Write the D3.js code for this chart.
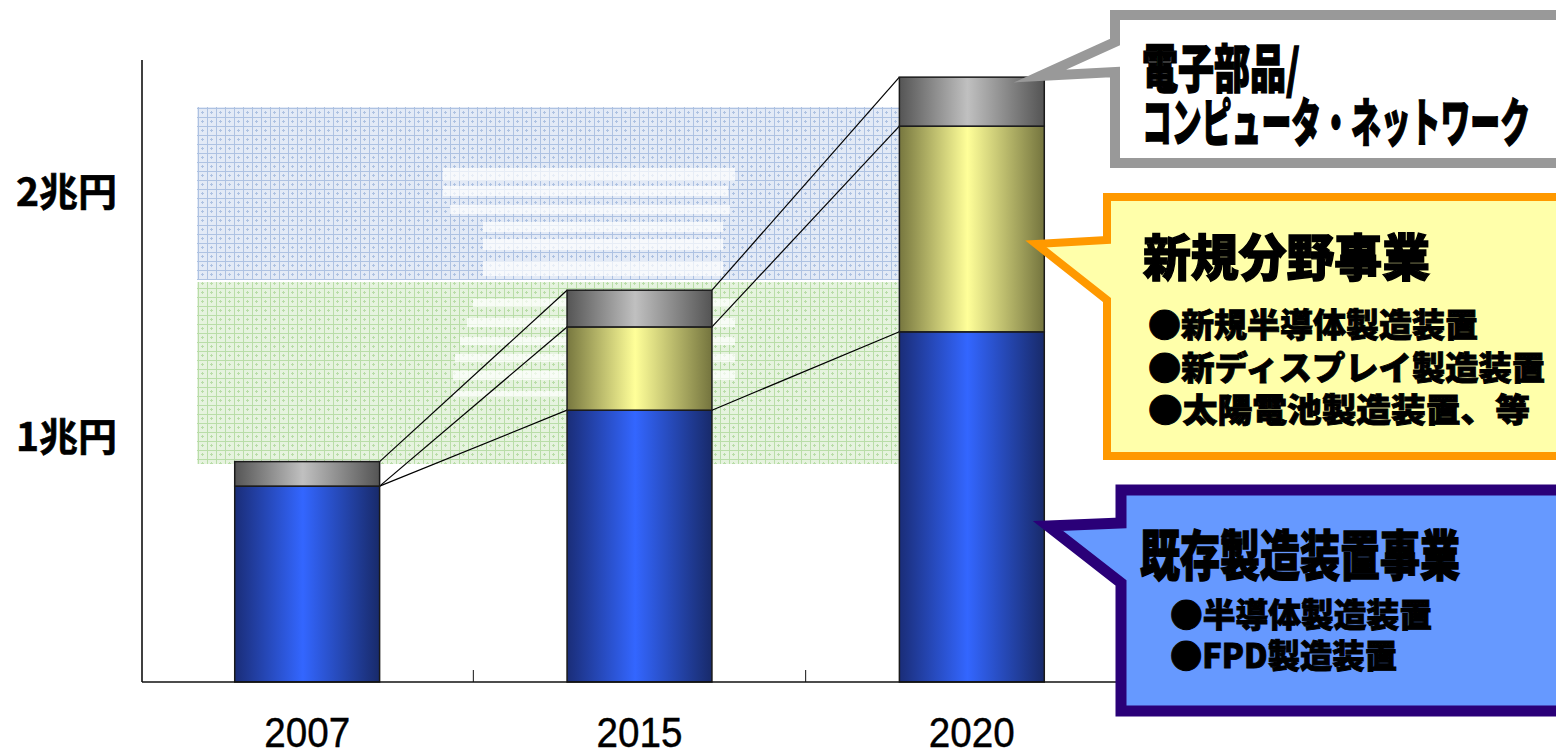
<!DOCTYPE html>
<html><head><meta charset="utf-8">
<script src="https://cdn.jsdelivr.net/npm/d3@7"></script>
<style>
html,body{margin:0;padding:0;background:#fff;}
svg{display:block;}
text{font-family:"Noto Sans CJK JP","Noto Sans",sans-serif;}
</style></head>
<body>
<svg id="chart" width="1556" height="754"></svg>
<script>
// ---- data ----
const years = ["2007", "2015", "2020"];
const existingBiz = [0.80, 1.11, 1.43];   // 既存製造装置事業
const newBiz      = [0.00, 0.34, 0.84];   // 新規分野事業
const electronics = [0.10, 0.15, 0.20];   // 電子部品/コンピュータ・ネットワーク
const seriesKeys  = ["existing", "newBiz", "electronics"];
const yTickValues = [1, 2];
const yTickLabels = ["1兆円", "2兆円"];

const calloutGray   = ["電子部品/", "コンピュータ・ネットワーク"];
const calloutOrange = ["新規分野事業", "●新規半導体製造装置", "●新ディスプレイ製造装置", "●太陽電池製造装置、等"];
const calloutBlue   = ["既存製造装置事業", "●半導体製造装置", "●FPD製造装置"];

// ---- setup ----
const svg = d3.select("#chart");
const defs = svg.append("defs");

const x = d3.scaleBand().domain(years).range([141, 1138]).padding(0);
const barW = x.bandwidth() * 0.436;
const y = d3.scaleLinear().domain([0, 2.54]).range([682, 60]);

const rows = years.map((yr, i) => ({year: yr, existing: existingBiz[i], newBiz: newBiz[i], electronics: electronics[i]}));
const stacked = d3.stack().keys(seriesKeys)(rows);

// gradients
function hGrad(id, dark, light, dark2) {
  const g = defs.append("linearGradient").attr("id", id).attr("x1", 0).attr("x2", 1).attr("y1", 0).attr("y2", 0);
  g.append("stop").attr("offset", "0%").attr("stop-color", dark);
  g.append("stop").attr("offset", "47%").attr("stop-color", light);
  g.append("stop").attr("offset", "100%").attr("stop-color", dark2);
}
hGrad("gBlue", "#1a2d78", "#3366ff", "#182a6a");
hGrad("gYellow", "#77773f", "#ffff99", "#74743e");
hGrad("gGray", "#555555", "#c0c0c0", "#545454");
const fills = {existing: "url(#gBlue)", newBiz: "url(#gYellow)", electronics: "url(#gGray)"};

// background texture patterns
function pat(id, base, line) {
  const p = defs.append("pattern").attr("id", id).attr("patternUnits", "userSpaceOnUse")
    .attr("width", 9).attr("height", 9);
  p.append("rect").attr("width", 9).attr("height", 9).attr("fill", base);
  p.append("rect").attr("width", 9).attr("height", 1).attr("fill", line);
  p.append("rect").attr("width", 1).attr("height", 9).attr("fill", line);
  p.append("rect").attr("x", 4).attr("y", 3).attr("width", 1).attr("height", 3).attr("fill", line);
  p.append("rect").attr("x", 3).attr("y", 4).attr("width", 3).attr("height", 1).attr("fill", line);
}
pat("pBlue", "#e3eaf6", "#aec2e2");
pat("pGreen", "#e6f3df", "#b9dda8");

const bg = svg.append("g").attr("class", "decor");
bg.append("rect").attr("x", 197).attr("y", 107).attr("width", 703).attr("height", 173).attr("fill", "url(#pBlue)");
bg.append("rect").attr("x", 197).attr("y", 282).attr("width", 703).attr("height", 182).attr("fill", "url(#pGreen)");
// faded white blocks of the background picture
const blocks = [
  [443, 168, 292, 13], [443, 186, 285, 10], [450, 205, 280, 9],
  [483, 222, 240, 10], [483, 239, 240, 11], [483, 261, 240, 15],
  [473, 299, 262, 8], [467, 318, 268, 9], [460, 337, 275, 8],
  [455, 354, 280, 8], [453, 371, 282, 9], [453, 391, 120, 6]
];
bg.selectAll("rect.blk").data(blocks).join("rect").attr("class", "blk")
  .attr("x", d => d[0]).attr("y", d => d[1]).attr("width", d => d[2]).attr("height", d => d[3])
  .attr("fill", "#ffffff").attr("opacity", 0.7);

// connecting lines between stacked tops
const lines = svg.append("g");
stacked.forEach(s => {
  for (let j = 0; j < s.length - 1; j++) {
    const a = s[j], b = s[j + 1];
    lines.append("line")
      .attr("x1", x(a.data.year) + x.bandwidth() / 2 + barW / 2).attr("y1", y(a[1]))
      .attr("x2", x(b.data.year) + x.bandwidth() / 2 - barW / 2).attr("y2", y(b[1]))
      .attr("stroke", "#000").attr("stroke-width", 1.2);
  }
});

// bars
const barsG = svg.append("g");
stacked.forEach(s => {
  barsG.selectAll(null).data(s.filter(d => d[1] - d[0] > 0)).join("rect")
    .attr("x", d => x(d.data.year) + x.bandwidth() / 2 - barW / 2)
    .attr("y", d => y(d[1]))
    .attr("width", barW)
    .attr("height", d => y(d[0]) - y(d[1]))
    .attr("fill", fills[s.key])
    .attr("stroke", "#1a1a1a").attr("stroke-width", 1.5);
});

// axes
const axisG = svg.append("g");
axisG.append("line").attr("x1", 142).attr("x2", 142).attr("y1", y(2.54)).attr("y2", y(0))
  .attr("stroke", "#000").attr("stroke-width", 1.5);
axisG.append("line").attr("x1", 142).attr("x2", 1138).attr("y1", y(0)).attr("y2", y(0))
  .attr("stroke", "#111").attr("stroke-width", 1.5);
years.slice(1).forEach(yr => {
  axisG.append("line").attr("x1", x(yr)).attr("x2", x(yr)).attr("y1", y(0)).attr("y2", y(0) - 12)
    .attr("stroke", "#111").attr("stroke-width", 1);
});
axisG.selectAll("text.year").data(years).join("text").attr("class", "year")
  .attr("x", d => x(d) + x.bandwidth() / 2).attr("y", 747)
  .attr("text-anchor", "middle")
  .style("font-family", "'Liberation Sans Narrow','Arial Narrow','Liberation Sans',sans-serif")
  .attr("font-size", 42).attr("textLength", 86).attr("lengthAdjust", "spacingAndGlyphs")
  .attr("fill", "#000").attr("stroke", "#000").attr("stroke-width", 0.4).text(d => d);
axisG.selectAll("text.ylab").data(yTickValues).join("text").attr("class", "ylab")
  .attr("x", 117).attr("y", d => y(d) + 14)
  .attr("text-anchor", "end").attr("font-size", 39).attr("font-weight", 700)
  .attr("fill", "#000").attr("stroke", "#000").attr("stroke-width", 0.6)
  .text((d, i) => yTickLabels[i]);

// callouts
function callout(pathPts, stroke, sw, fill) {
  svg.append("path").attr("d", "M" + pathPts.map(p => p.join(",")).join("L") + "Z")
    .attr("fill", fill).attr("stroke", stroke).attr("stroke-width", sw)
    .attr("stroke-linejoin", "miter").attr("stroke-miterlimit", 12);
}
callout([[1040, 76], [1115, 42], [1115, 15], [1565, 15], [1565, 163], [1115, 163], [1115, 72]], "#999999", 10, "#ffffff");
callout([[1036, 244], [1107, 240], [1107, 197], [1565, 197], [1565, 456], [1107, 456], [1107, 300]], "#ff9900", 8, "#ffffaa");
callout([[1048, 526], [1121, 523], [1121, 490], [1565, 490], [1565, 711], [1121, 711], [1121, 583]], "#2a0078", 11, "#6699ff");

function txt(str, xx, yy, size, len) {
  svg.append("text").attr("x", xx).attr("y", yy).attr("font-size", size).attr("font-weight", 900)
    .attr("textLength", len).attr("lengthAdjust", "spacingAndGlyphs")
    .attr("fill", "#000").attr("stroke", "#000").attr("stroke-width", size > 40 ? 1.4 : 0.9)
    .text(str);
}
txt(calloutGray[0], 1142, 88, 52, 158);
txt(calloutGray[1], 1142, 142, 52, 388);
txt(calloutOrange[0], 1143, 276, 50, 287);
txt(calloutOrange[1], 1148, 337, 33, 330);
txt(calloutOrange[2], 1148, 380, 33, 397);
txt(calloutOrange[3], 1148, 422, 33, 382);
txt(calloutBlue[0], 1140, 576, 54, 320);
txt(calloutBlue[1], 1170, 627, 33, 262);
txt(calloutBlue[2], 1170, 668, 33, 227);
</script>
</body></html>
